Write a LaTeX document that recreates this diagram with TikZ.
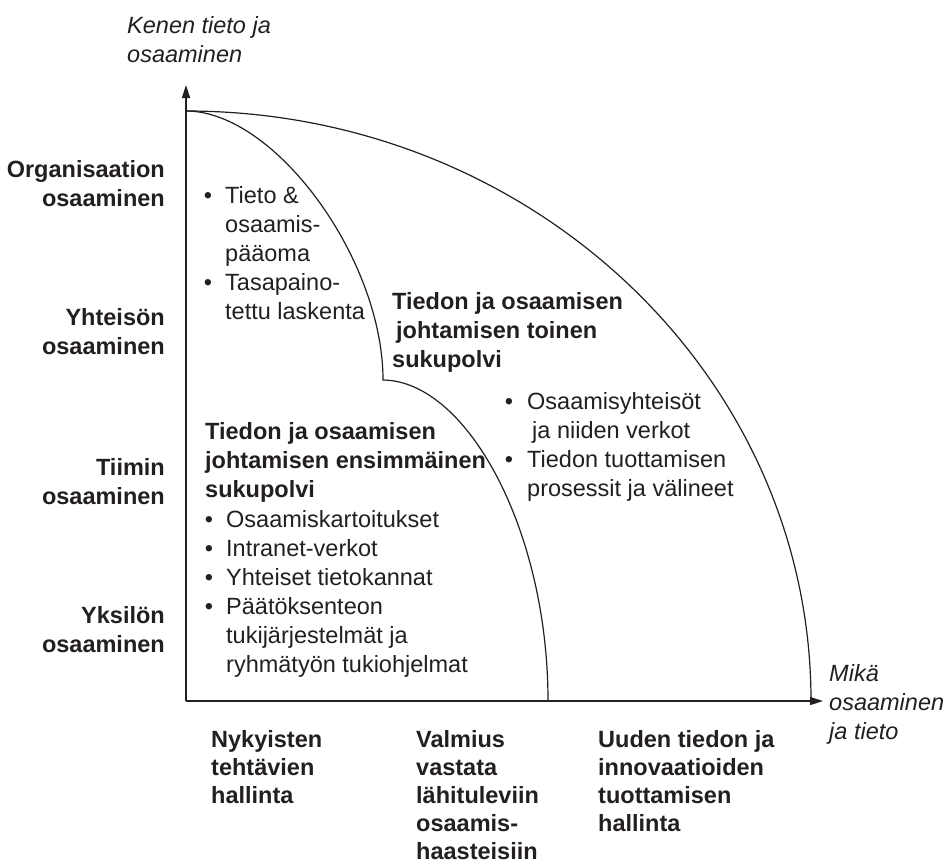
\documentclass[tikz,border=0pt]{standalone}
\usepackage{fontspec}
\setmainfont{Liberation Sans}
\usetikzlibrary{arrows.meta}
\definecolor{ink}{HTML}{231F20}
\newcommand{\bodyfnt}{\fontsize{23.5}{29}\selectfont}
\newcommand{\bottomfnt}{\fontsize{23.5}{28}\selectfont}
\newcommand{\bul}[1][13pt]{\llap{•\hspace{#1}}}
\begin{document}
\begin{tikzpicture}[x=1pt,y=-1pt,
  txt/.style={inner sep=0pt, anchor=north west, align=left, font=\bodyfnt, text=ink},
  txtr/.style={txt, anchor=north east, align=right},
  bold/.style={font=\bodyfnt\bfseries},
  bottomlbl/.style={txt, font=\bottomfnt\bfseries},
  ital/.style={font=\bodyfnt\itshape},
  axis/.style={draw=ink, line width=1.5pt, -{Triangle[length=13pt,width=8pt]}},
  curve/.style={draw=ink, line width=1.2pt}]
\useasboundingbox (0,0) rectangle (944,865);

% axes
\coordinate (O) at (186,701);
\coordinate (ytip) at (186,85);
\coordinate (xtip) at (823,701);
\draw[axis] (O) -- (ytip);
\draw[axis] (O) -- (xtip);

% curves
\coordinate (top) at (186,111);
\coordinate (outerEnd) at (811,701);
\coordinate (corner) at (383,380);
\coordinate (innerEnd) at (548,701);
\draw[curve] (top) .. controls (531,111) and (811,375) .. (outerEnd);
\draw[curve] (top) .. controls (275,111) and (383,259) .. (corner)
  .. controls (467,381) and (548,530) .. (innerEnd);

% axis titles
\node[txt,ital] (kenen) at (127,12.7) {\strut Kenen tieto ja\\osaaminen};
\node[txt,ital] (mika) at (829,660.7) {\strut Mikä\\osaaminen\\ja tieto};

% left labels
\node[txtr,bold] (org) at (165,156.7) {\strut Organisaation\\osaaminen};
\node[txtr,bold] (yht) at (165,304.7) {\strut Yhteisön\\osaaminen};
\node[txtr,bold] (tiim) at (165,454.7) {\strut Tiimin\\osaaminen};
\node[txtr,bold] (yks) at (165,602.7) {\strut Yksilön\\osaaminen};

% top-left bullets
\node[txt] (tl) at (225,182.7) {\strut\bul Tieto \&\\osaamis-\\pääoma\\\bul Tasapaino-\\tettu laskenta};

% second generation
\node[txt,bold] (g2h) at (392,288.7) {\strut Tiedon ja osaamisen\\\hspace*{4pt}johtamisen toinen\\sukupolvi};
\node[txt] (g2b) at (527,388.7) {\strut\bul[14pt]Osaamisyhteisöt\\\hspace*{5pt}ja niiden verkot\\\bul[14pt]Tiedon tuottamisen\\prosessit ja välineet};

% first generation
\node[txt,bold] (g1h) at (205,418.7) {\strut Tiedon ja osaamisen\\johtamisen ensimmäinen\\sukupolvi};
\node[txt] (g1b) at (226,506.7) {\strut\bul Osaamiskartoitukset\\\bul Intranet-verkot\\\bul Yhteiset tietokannat\\\bul Päätöksenteon\\tukijärjestelmät ja\\ryhmätyön tukiohjelmat};

% bottom labels
\node[bottomlbl] (b1) at (211,727.4) {\strut Nykyisten\\tehtävien\\hallinta};
\node[bottomlbl] (b2) at (416,727.4) {\strut Valmius\\vastata\\lähituleviin\\osaamis-\\haasteisiin};
\node[bottomlbl] (b3) at (598,727.4) {\strut Uuden tiedon ja\\innovaatioiden\\tuottamisen\\hallinta};
\end{tikzpicture}
\end{document}
